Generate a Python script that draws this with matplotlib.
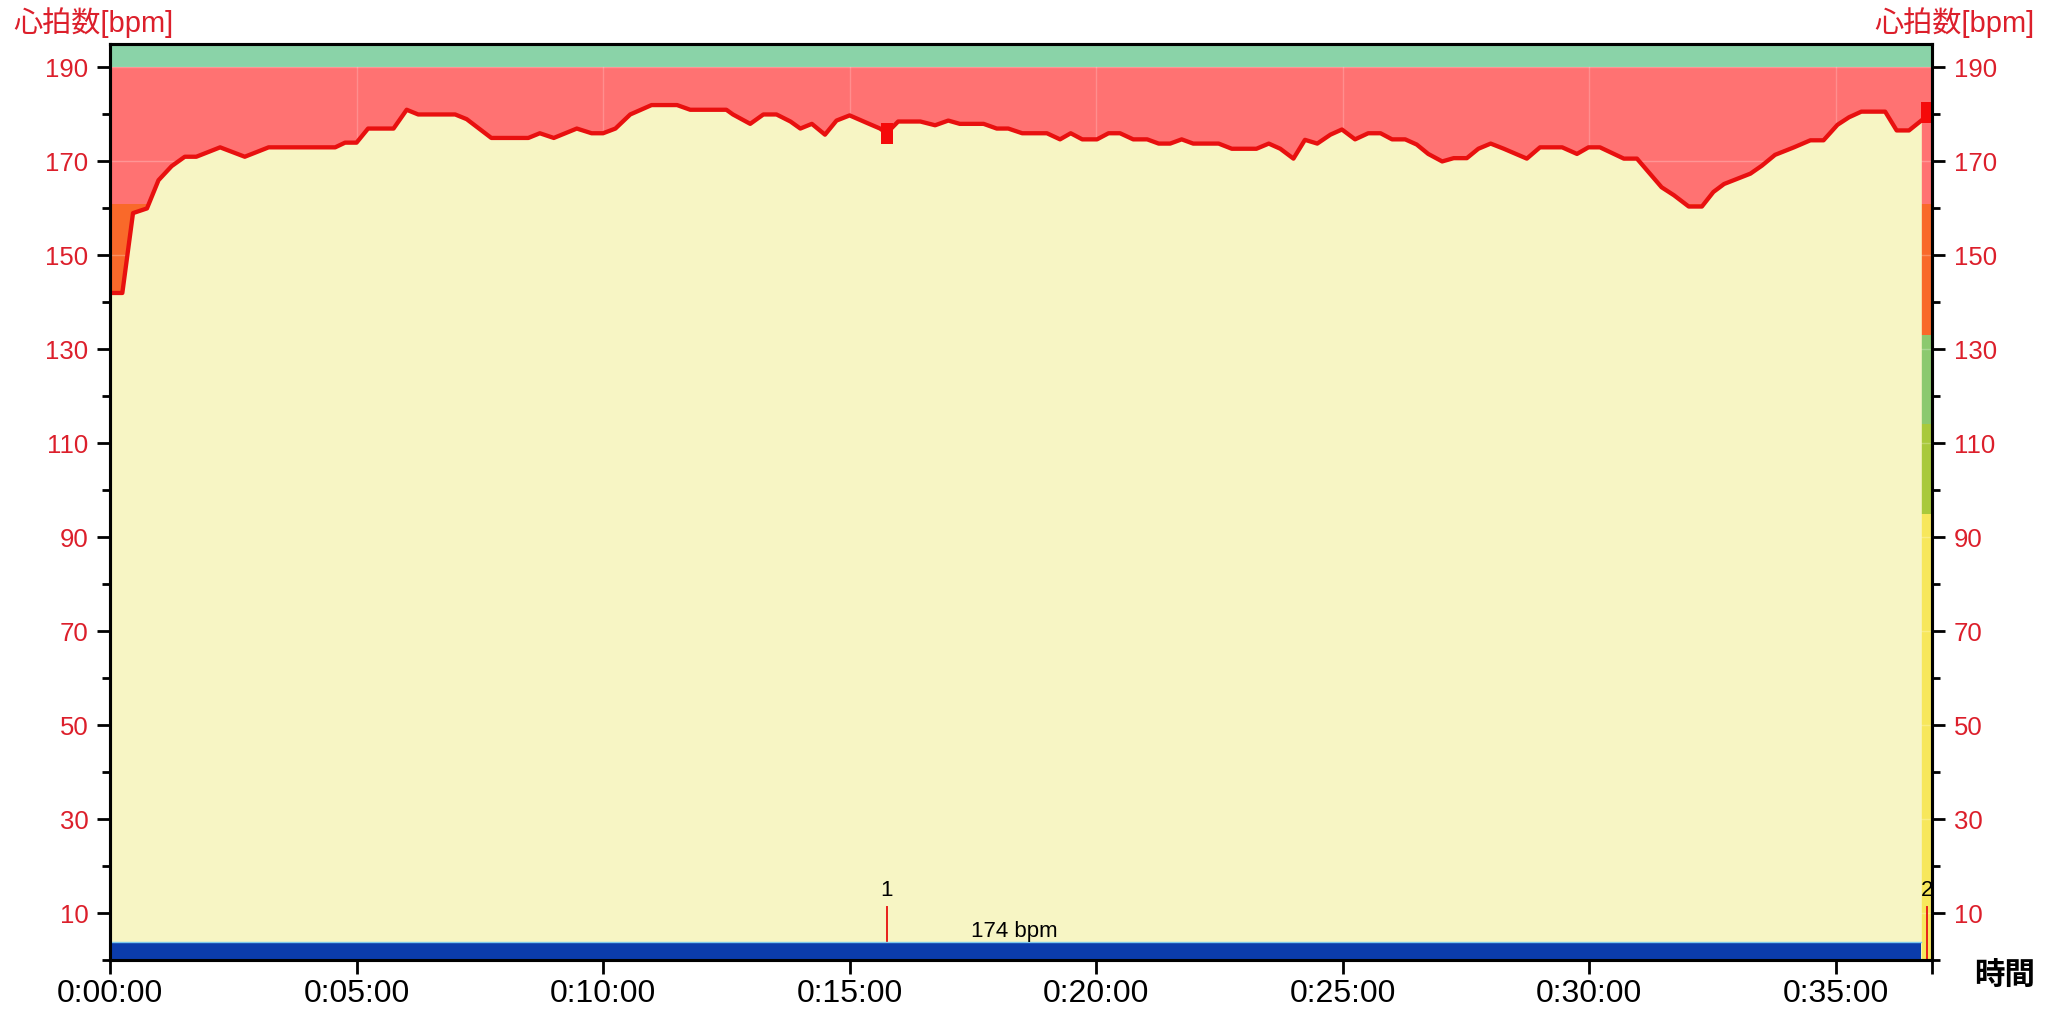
import matplotlib
matplotlib.use("Agg")
import matplotlib.pyplot as plt
from matplotlib.patches import Rectangle
from matplotlib.ticker import FuncFormatter, MultipleLocator

plt.rcParams['font.family'] = ['Liberation Sans', 'Noto Sans CJK JP', 'DejaVu Sans']

# heart rate samples (seconds, bpm)
hr_sec = [0, 15, 28, 45, 59, 75, 91, 105, 134, 164, 193, 274, 286, 300, 314, 345,
          361, 375, 420, 434, 464, 509, 523, 540, 554, 568, 586, 600, 615, 633, 659,
          690, 706, 750, 758, 779, 795, 811, 828, 840, 854, 870, 884, 900, 921, 937,
          945, 959, 986, 1004, 1020, 1034, 1063, 1079, 1093, 1110, 1140, 1156, 1169,
          1183, 1201, 1215, 1229, 1245, 1262, 1276, 1290, 1304, 1318, 1349, 1365,
          1395, 1410, 1424, 1440, 1454, 1469, 1485, 1499, 1515, 1531, 1546, 1560,
          1576, 1590, 1604, 1621, 1635, 1651, 1665, 1680, 1696, 1724, 1740, 1767,
          1785, 1799, 1813, 1842, 1858, 1888, 1903, 1921, 1937, 1951, 1964, 1980,
          1996, 2010, 2026, 2049, 2069, 2085, 2102, 2116, 2131, 2160, 2174, 2189, 2204]
hr_bpm = [142, 142, 159, 160, 166, 169, 171, 171, 173, 171, 173, 173, 174, 174, 177, 177,
          181, 180, 180, 179, 175, 175, 176, 175, 176, 177, 176, 176, 177, 180, 182,
          182, 181, 181, 180, 178, 180, 180, 178.5, 177, 178, 175.7, 178.7, 179.8, 178.2, 177,
          176, 178.5, 178.5, 177.7, 178.7, 178, 178, 177, 177, 176, 176, 174.7, 176,
          174.7, 174.7, 176, 176, 174.7, 174.7, 173.8, 173.8, 174.7, 173.8, 173.8, 172.7,
          172.7, 173.8, 172.7, 170.6, 174.6, 173.8, 175.7, 176.8, 174.7, 176, 176, 174.7,
          174.7, 173.6, 171.6, 170, 170.7, 170.7, 172.7, 173.8, 172.7, 170.6, 173, 173,
          171.6, 173, 173, 170.6, 170.6, 164.5, 162.8, 160.4, 160.4, 163.5, 165.2, 166.3,
          167.4, 169.1, 171.4, 173, 174.5, 174.5, 177.8, 179.4, 180.6, 180.6, 176.6, 176.6, 178.7]

# heart rate zones (bpm boundaries) and colours
zone_edges = [0, 95, 114, 133, 161, 190]
zone_colors = ['#f7e75c', '#a9c93c', '#8cc96f', '#f9692a', '#ff7272']
over_max = (190, 195)

# laps
lap_sec = [945, 2211]
lap_bpm = [176, 180.5]
lap_names = ['1', '2']
lap_avg_text = '174 bpm'
lap_avg_pos = (1100, 6)

x_end = 2217
y_ticks = list(range(10, 191, 20))
red = '#dc1f2b'

fig = plt.figure(figsize=(20.6, 10.17), dpi=100)
ax = fig.add_axes([110 / 2060, 57 / 1017, 1822 / 2060, 916 / 1017])

# zone background
for lo, hi, c in zip(zone_edges[:-1], zone_edges[1:], zone_colors):
    ax.axhspan(lo, hi, color=c, lw=0, zorder=0)
ax.axhspan(over_max[0], over_max[1], color='#8ad3a8', lw=0, zorder=0)

# faint grid seen through the zone colours
for v in y_ticks:
    ax.axhline(v, color='white', alpha=0.25, lw=1, zorder=1)
for v in range(300, x_end, 300):
    ax.axvline(v, ymax=190 / 195, color='white', alpha=0.2, lw=1, zorder=1)

# area under the heart rate
ax.fill_between(hr_sec, 0, hr_bpm, color='#f7f5c4', lw=0, zorder=2)
ax.plot(hr_sec, hr_bpm, color='#e8100f', lw=3.1, zorder=4, solid_joinstyle='round')

# lap marks
for s, b, n in zip(lap_sec, lap_bpm, lap_names):
    ax.add_patch(Rectangle((s - 7.3, b - 2.25), 14.6, 4.5, color='#f50a0a', lw=0, zorder=5))
    ax.plot([s, s], [0, 11.3], color='#e8201a', lw=1.4, zorder=2.5)
    ax.text(s, 12.5, n, ha='center', va='bottom', fontsize=16, color='black', zorder=6)

# blue band along the bottom
ax.broken_barh([(0, hr_sec[-1])], (0, 3.8), facecolors='#0b3cab', zorder=3)
ax.plot([0, hr_sec[-1]], [3.8, 3.8], color='#7cc8ee', lw=1, zorder=3)
ax.text(lap_avg_pos[0], lap_avg_pos[1], lap_avg_text, ha='center', va='center',
        fontsize=16, color='black', zorder=6)

ax.set_xlim(0, x_end)
ax.set_ylim(0, 195)

ax.xaxis.set_major_locator(MultipleLocator(300))
ax.set_xticks([x_end], minor=True)
ax.xaxis.set_major_formatter(FuncFormatter(
    lambda v, p: f"{int(v) // 3600}:{int(v) % 3600 // 60:02d}:{int(v) % 60:02d}"))
ax.set_yticks(y_ticks)
ax.set_yticks(list(range(0, 191, 20)), minor=True)

ax2 = ax.twinx()
ax2.set_ylim(ax.get_ylim())
ax2.set_yticks(y_ticks)
ax2.set_yticks(list(range(0, 191, 20)), minor=True)

for a in (ax, ax2):
    for sp in a.spines.values():
        sp.set_linewidth(2.2)
    a.tick_params(axis='y', which='major', length=9.5, width=2, labelsize=18.5,
                  labelcolor=red, pad=6)
    a.tick_params(axis='y', which='minor', length=5.5, width=2)
ax.tick_params(axis='x', which='both', length=10, width=2, pad=4)
for lbl in ax.get_xticklabels():
    lbl.set_family(['Liberation Sans Narrow', 'Liberation Sans'])
    lbl.set_fontsize(23)

fig.text(13 / 2060, 1 - 23 / 1017, '心拍数[bpm]', ha='left', va='center',
         fontsize=21, color=red)
fig.text(2035 / 2060, 1 - 23 / 1017, '心拍数[bpm]', ha='right', va='center',
         fontsize=21, color=red)
fig.text(2005 / 2060, 40 / 1017, '時間', ha='center', va='center',
         fontsize=22, fontweight='bold', color='black')

fig.savefig('out.png', dpi=100)
